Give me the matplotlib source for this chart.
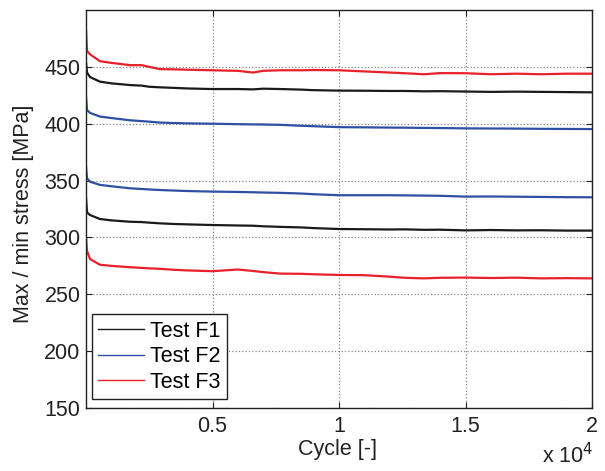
import matplotlib
matplotlib.use("Agg")
import matplotlib.pyplot as plt
from matplotlib.lines import Line2D

plt.rcParams['font.family'] = ['Liberation Sans', 'DejaVu Sans']

cycles = [0, 40, 160, 550, 1000, 1740, 2200, 2500, 2920, 3500, 4000, 5000, 6000,
          6600, 7000, 7670, 8500, 9000, 10000, 11000, 12000, 12600, 13350,
          14000, 15000, 16000, 17000, 18000, 19000, 20000]

f1_max = [454, 445, 441, 437, 435.5, 434, 433.5, 432.5, 432, 431.5, 431, 430.5, 430.5,
          430.2, 430.8, 430.5, 430, 429.5, 429.1, 429, 428.8, 428.8, 428.5,
          428.6, 428.3, 428, 428.2, 428, 427.8, 427.6]
f1_min = [335, 322, 319.7, 316.2, 315, 313.8, 313.5, 313, 312.4, 311.8, 311.5, 310.9, 310.5,
          310.3, 309.8, 309.3, 308.8, 308.2, 307.4, 307.2, 307, 307.1, 306.7,
          306.8, 306.2, 306.5, 306.2, 306.3, 306, 306]
f2_max = [424, 412, 409.5, 406.3, 405, 403, 402.3, 401.8, 401, 400.6, 400.3, 400, 399.6,
          399.4, 399.3, 399, 398.2, 397.8, 397, 396.8, 396.6, 396.5, 396.3,
          396.2, 395.9, 395.8, 395.7, 395.5, 395.4, 395.3]
f2_min = [362, 352, 349, 346.2, 345, 343.2, 342.6, 342.2, 341.7, 341.2, 340.8, 340.3, 340,
          339.7, 339.5, 339.2, 338.6, 338, 337.1, 337.1, 337.1, 337, 336.8,
          336.6, 335.9, 336, 335.8, 335.6, 335.4, 335.3]
f3_max = [482, 464, 461, 455, 453.5, 451.5, 451.5, 450, 448, 447.8, 447.5, 447, 446.5,
          445, 446.5, 447, 447, 447.2, 447, 446, 445, 444.4, 443.5,
          444.5, 444.4, 443.5, 444, 443.5, 444, 444]
f3_min = [300, 288, 281, 276, 275, 273.8, 273.2, 272.8, 272.4, 271.5, 271, 270.3, 271.8,
          270.5, 269.5, 268.2, 268, 267.6, 267, 266.8, 265.5, 264.5, 264,
          264.5, 264.7, 264.3, 264.6, 264, 264.2, 264]

labels = ['Test F1', 'Test F2', 'Test F3']
colors = ['#1a1a1a', '#2e4fa3', '#e8202a']

x_ticks = [5000, 10000, 15000, 20000]
x_ticklabels = ['0.5', '1', '1.5', '2']
y_ticks = [150, 200, 250, 300, 350, 400, 450]

W, H = 605, 471
FS = 15.5
TXT = '#222222'

fig = plt.figure(figsize=(W / 100, H / 100), dpi=100)
ax = fig.add_axes([86 / W, 1 - 408 / H, (592 - 86) / W, (408 - 10) / H])

series = [(f1_max, f1_min), (f2_max, f2_min), (f3_max, f3_min)]
for (smax, smin), col in zip(series, colors):
    ax.plot(cycles, smax, color=col, lw=1.6)
    ax.plot(cycles, smin, color=col, lw=1.6)

ax.set_xlim(0, 20000)
ax.set_ylim(150, 500)
ax.set_xticks(x_ticks)
ax.set_xticklabels(x_ticklabels)
ax.set_yticks(y_ticks)
ax.tick_params(direction='in', labelsize=FS, length=4, top=True, right=True,
               labeltop=False, labelright=False, colors=TXT)
ax.tick_params(axis='x', pad=6)
ax.tick_params(axis='y', pad=4)
ax.grid(True, linestyle=':', color='#888888', lw=0.9)
for sp in ax.spines.values():
    sp.set_color(TXT)
    sp.set_linewidth(1.0)

fig.text(337 / W, 1 - 455.5 / H, 'Cycle [-]', fontsize=FS, ha='center',
         va='baseline', color=TXT)
fig.text(24 / W, 1 - 214 / H, 'Max / min stress [MPa]', fontsize=FS,
         rotation=90, ha='center', va='center', color=TXT)
fig.text(593 / W, 1 - 463 / H, 'x 10$^4$', fontsize=FS, ha='right',
         va='baseline', color=TXT)

handles = [Line2D([], [], color=c, lw=1.0) for c in colors]
leg = ax.legend(handles, labels, loc='lower left',
                bbox_to_anchor=((92 - 86) / 506, (408 - 399) / 398),
                borderaxespad=0, fontsize=FS, frameon=True, fancybox=False,
                edgecolor=TXT, framealpha=1, handlelength=2.1,
                borderpad=0.3, labelspacing=0.2, handletextpad=0.3)
leg.get_frame().set_linewidth(1.0)

fig.savefig('out.png', dpi=100)
